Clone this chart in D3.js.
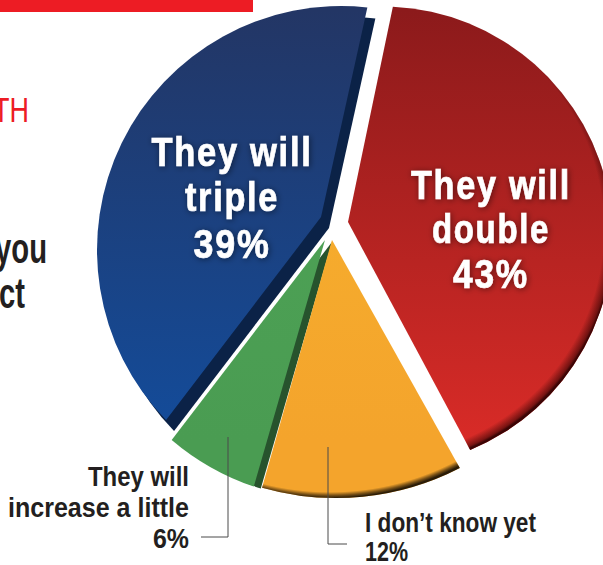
<!DOCTYPE html>
<html>
<head>
<meta charset="utf-8">
<script src="https://cdn.jsdelivr.net/npm/d3@7"></script>
<style>
html,body{margin:0;padding:0;background:#fff;overflow:hidden}
svg{display:block}
text{font-family:"Liberation Sans",Arimo,sans-serif;font-weight:700}
</style>
</head>
<body>
<svg id="chart" width="603" height="565"></svg>
<script>
// Survey answers, clockwise from the top of the pie
const answers = ["They will double", "I don't know yet", "They will increase a little", "They will triple"];
const shares = [43, 12, 6, 39];
const insideLabels = [["They will", "double", "43%"], null, null, ["They will", "triple", "39%"]];
const outsideLabels = [null, ["I don\u2019t know yet", "12%"], ["They will", "increase a little", "6%"], null];

// Every wedge is pulled out on its own: circle centre, radius, inner corner, turn in degrees
const wedgeLayout = [
  {cx: 382, cy: 237, r: 230.5, ax: 348, ay: 222, turn: -0.3, top: "#8c1a1b", bottom: "#d82b27", rim: "#3a0505", rimFrom: 0.955, wall: null},
  {cx: 336, cy: 228, r: 270,   ax: 332, ay: 240, turn: -5.1, top: "#f7b32e", bottom: "#f4a42c", rim: "#2a1c08", rimFrom: 0.978, wall: null},
  {cx: 335, cy: 248, r: 252,   ax: 325, ay: 240, turn: -2.2, top: "#4fa557", bottom: "#4a9c52", rim: null, wall: {dx: 7, dy: 2, fill: "#27532d"}},
  {cx: 341, cy: 250, r: 244,   ax: 321, ay: 217, turn: 3.2,  top: "#233665", bottom: "#134c9b", rim: null, wall: {dx: 8, dy: 11, fill: "#0b2247"}}
];

const svg = d3.select("#chart");
const defs = svg.append("defs");

const deg = Math.PI / 180;
const pie = d3.pie().sort(null).startAngle(3 * deg).endAngle(363 * deg);
const arcs = pie(shares);

function wedgePath(a, L, dx = 0, dy = 0) {
  const p = d3.path();
  const t = L.turn * deg - Math.PI / 2;
  p.moveTo(L.ax + dx, L.ay + dy);
  p.arc(L.cx + dx, L.cy + dy, L.r, a.startAngle + t, a.endAngle + t);
  p.closePath();
  return p.toString();
}

// Soft shadow behind the white lettering
const glow = defs.append("filter").attr("id", "glow")
  .attr("x", "-20%").attr("y", "-30%").attr("width", "140%").attr("height", "160%");
glow.append("feDropShadow").attr("dx", 1).attr("dy", 1).attr("stdDeviation", 3)
  .attr("flood-color", "#000").attr("flood-opacity", 0.5);

wedgeLayout.forEach((L, i) => {
  const face = defs.append("linearGradient").attr("id", `face${i}`)
    .attr("gradientUnits", "userSpaceOnUse")
    .attr("x1", 0).attr("y1", 10).attr("x2", 0).attr("y2", 440);
  face.append("stop").attr("offset", 0).attr("stop-color", L.top);
  face.append("stop").attr("offset", 1).attr("stop-color", L.bottom);
  if (L.rim) {
    // Rim shading leans to the lower right, so the upper arc stays clean
    const rim = defs.append("radialGradient").attr("id", `rim${i}`)
      .attr("gradientUnits", "userSpaceOnUse")
      .attr("cx", L.cx - 6).attr("cy", L.cy - 8).attr("r", L.r + 8);
    rim.append("stop").attr("offset", L.rimFrom).attr("stop-color", L.rim).attr("stop-opacity", 0);
    rim.append("stop").attr("offset", 0.99).attr("stop-color", L.rim).attr("stop-opacity", 0.6);
    rim.append("stop").attr("offset", 1).attr("stop-color", L.rim).attr("stop-opacity", 1);
  }
});

// Draws a line of text squeezed to a set width, so it reads as a condensed face
function condensed(parent, str, x, y, size, width, fill, anchor = "start") {
  const left = anchor === "end" ? x - width : anchor === "middle" ? x - width / 2 : x;
  return parent.append("text")
    .attr("x", left).attr("y", y)
    .attr("font-size", size).attr("fill", fill)
    .attr("textLength", width).attr("lengthAdjust", "spacingAndGlyphs")
    .text(str);
}

// Top rule and the text running in from the left edge
svg.append("rect").attr("x", 0).attr("y", 0).attr("width", 253).attr("height", 12).attr("fill", "#ed1c24");
condensed(svg, "TH", -7, 122, 35, 36, "#ed1c24").style("font-weight", 400);
condensed(svg, "you", -5, 263, 42, 52, "#231f20");
condensed(svg, "ct", -1, 308, 42, 26, "#231f20");

const order = [3, 2, 1, 0];
const gPie = svg.append("g");
order.forEach(i => {
  const L = wedgeLayout[i], a = arcs[i];
  const g = gPie.append("g").attr("class", "wedge").attr("data-answer", answers[i]);
  if (L.wall) g.append("path").attr("d", wedgePath(a, L, L.wall.dx, L.wall.dy)).attr("fill", L.wall.fill);
  g.append("path").attr("d", wedgePath(a, L)).attr("fill", `url(#face${i})`);
  if (L.rim) g.append("path").attr("d", wedgePath(a, L)).attr("fill", `url(#rim${i})`);
});

// Leader lines for the two small wedges
const leader = d3.line();
[[[228, 437], [228, 537], [201, 537]], [[328, 447], [328, 544], [347, 544]]].forEach(pts => {
  svg.append("path").attr("d", leader(pts)).attr("fill", "none").attr("stroke", "#4a4a4a").attr("stroke-width", 1);
});

// White labels sitting on the two large wedges
const insideSpots = {
  0: {x: 491, ys: [199, 243, 288], widths: [160, 118, 76]},
  3: {x: 232, ys: [166, 211, 258], widths: [161, 94, 77]}
};
Object.entries(insideSpots).forEach(([i, spot]) => {
  const g = svg.append("g").attr("filter", "url(#glow)");
  insideLabels[i].forEach((line, k) => {
    condensed(g, line, spot.x, spot.ys[k], 40, spot.widths[k], "#fff", "middle")
      .attr("letter-spacing", 2)
      .attr("stroke", "#fff").attr("stroke-width", 0.7);
  });
});

// Dark labels outside the pie
const outsideSpots = {
  2: {x: 189, anchor: "end", ys: [486, 517, 548], widths: [101, 181, 36]},
  1: {x: 365, anchor: "start", ys: [532, 561], widths: [171, 43]}
};
Object.entries(outsideSpots).forEach(([i, spot]) => {
  outsideLabels[i].forEach((line, k) => {
    condensed(svg, line, spot.x, spot.ys[k], 28, spot.widths[k], "#231f20", spot.anchor);
  });
});
</script>
</body>
</html>
